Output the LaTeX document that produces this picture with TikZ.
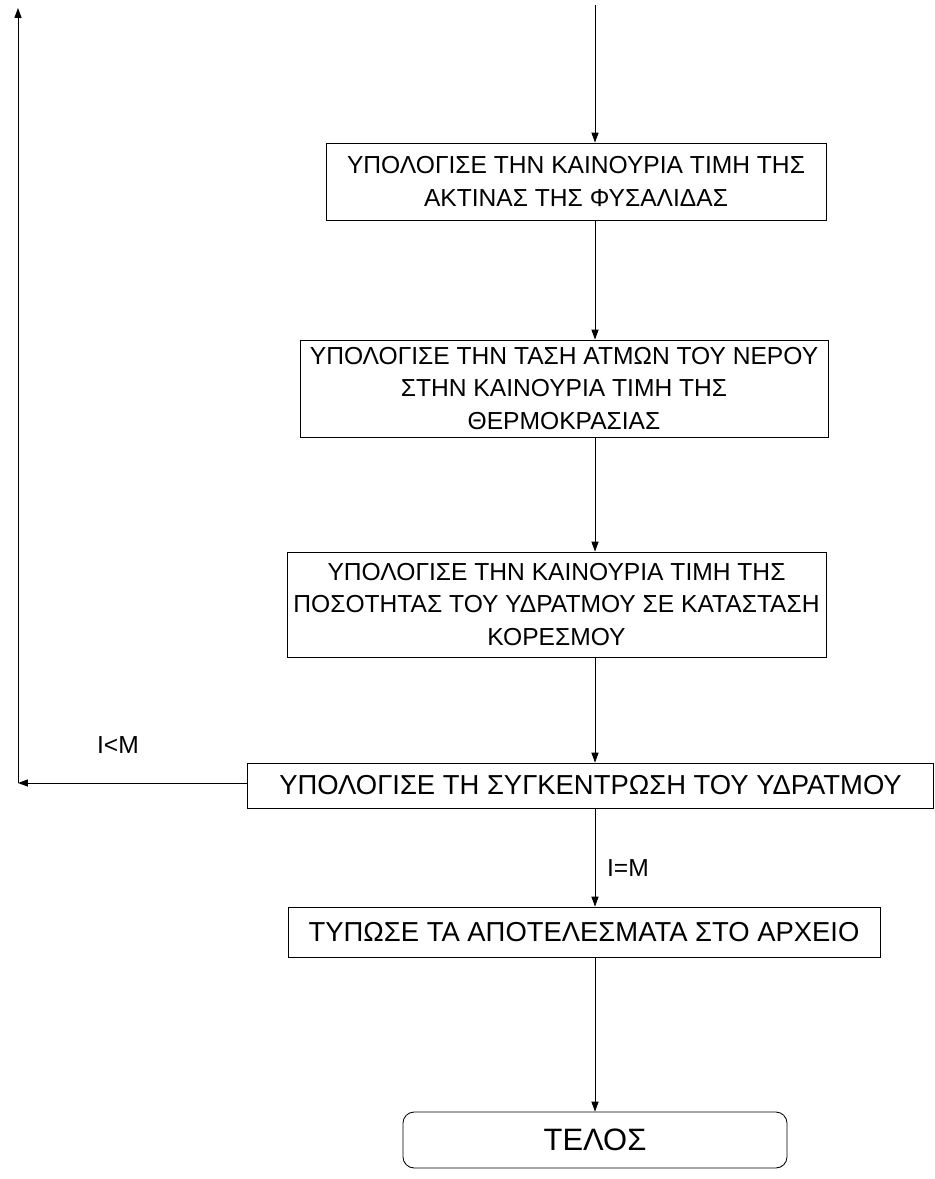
\documentclass[tikz,border=0pt]{standalone}
\usepackage{fontspec}
\setmainfont{Liberation Sans}
\usetikzlibrary{arrows.meta}

\begin{document}
\begin{tikzpicture}[x=0.025cm, y=-0.025cm,
    every node/.style={font=\fontsize{17.5}{23}\selectfont},
    procbox/.style={draw, line width=0.6pt, align=center, inner sep=0pt},
    bigtext/.style={font=\fontsize{19.5}{23}\selectfont},
    flow/.style={line width=0.6pt, -{Triangle[length=7pt, width=5pt]}}]
  \useasboundingbox (0,0) rectangle (935,1179);
  % boxes of the loop
  \node[procbox, minimum width=12.5cm, minimum height=1.925cm] (radius) at (576,181.5)
    {ΥΠΟΛΟΓΙΣΕ ΤΗΝ ΚΑΙΝΟΥΡΙΑ ΤΙΜΗ ΤΗΣ\\ΑΚΤΙΝΑΣ ΤΗΣ ΦΥΣΑΛΙΔΑΣ};
  \node[procbox, minimum width=13.2cm, minimum height=2.425cm] (vapour) at (564,388.5)
    {ΥΠΟΛΟΓΙΣΕ ΤΗΝ ΤΑΣΗ ΑΤΜΩΝ ΤΟΥ ΝΕΡΟΥ\\ΣΤΗΝ ΚΑΙΝΟΥΡΙΑ ΤΙΜΗ ΤΗΣ\\ΘΕΡΜΟΚΡΑΣΙΑΣ};
  \node[procbox, minimum width=13.475cm, minimum height=2.625cm] (saturation) at (556.5,604.5)
    {ΥΠΟΛΟΓΙΣΕ ΤΗΝ ΚΑΙΝΟΥΡΙΑ ΤΙΜΗ ΤΗΣ\\ΠΟΣΟΤΗΤΑΣ ΤΟΥ ΥΔΡΑΤΜΟΥ ΣΕ ΚΑΤΑΣΤΑΣΗ\\ΚΟΡΕΣΜΟΥ};
  \node[procbox, bigtext, minimum width=17.125cm, minimum height=1.125cm] (concentration) at (590.5,785.5)
    {ΥΠΟΛΟΓΙΣΕ ΤΗ ΣΥΓΚΕΝΤΡΩΣΗ ΤΟΥ ΥΔΡΑΤΜΟΥ};
  \node[procbox, bigtext, minimum width=14.8cm, minimum height=1.25cm] (output) at (584,932)
    {ΤΥΠΩΣΕ ΤΑ ΑΠΟΤΕΛΕΣΜΑΤΑ ΣΤΟ ΑΡΧΕΙΟ};
  \node[procbox, rounded corners=8pt, minimum width=9.6cm, minimum height=1.4cm,
    font=\fontsize{22}{26}\selectfont] (stop) at (595,1140) {ΤΕΛΟΣ};
  % the spine and the loop back
  \coordinate (spine) at (595,5);
  \coordinate (corner) at (18,783);
  \coordinate (back) at (18,8);
  \draw[flow] (spine) -- (radius.north -| spine);
  \draw[flow] (radius.south -| spine) -- (vapour.north -| spine);
  \draw[flow] (vapour.south -| spine) -- (saturation.north -| spine);
  \draw[flow] (saturation.south -| spine) -- (concentration.north -| spine);
  \draw[flow] (concentration.south -| spine) -- (output.north -| spine);
  \draw[flow] (output.south -| spine) -- (stop.north -| spine);
  \draw[flow] (concentration.west |- corner) -- (corner);
  \draw[flow] (corner) -- (back);
  \node (less) at (118,745) {I<M};
  \node (equal) at (628,868) {I=M};
\end{tikzpicture}
\end{document}
